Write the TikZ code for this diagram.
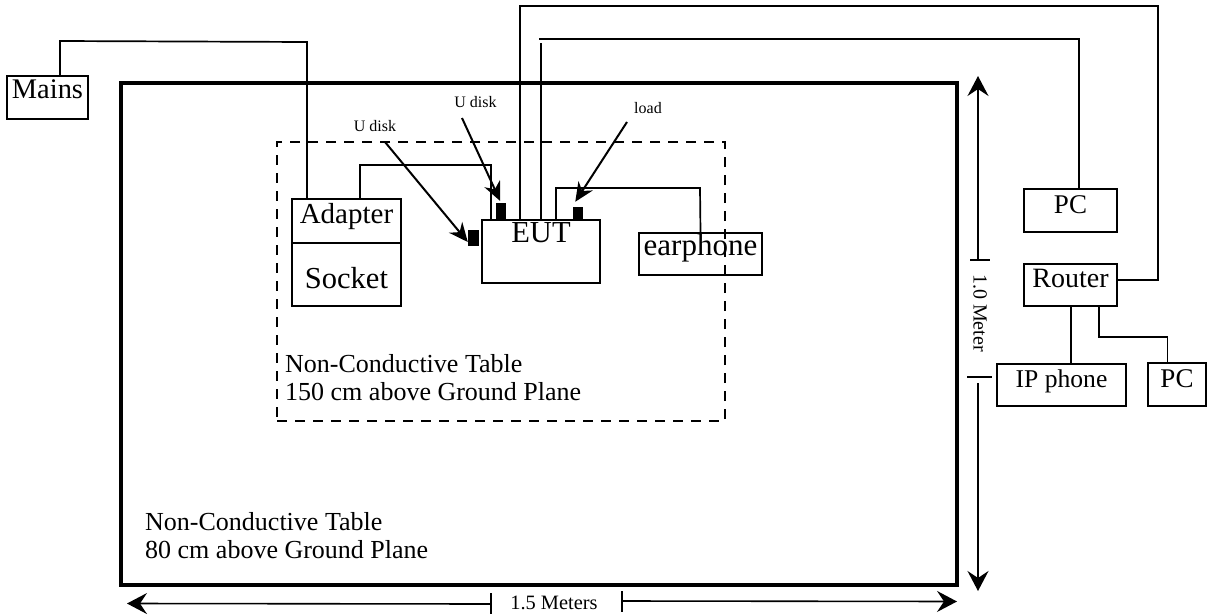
\documentclass[tikz,border=0pt]{standalone}
\usepackage{fontspec}
\setmainfont{Liberation Serif}
\usetikzlibrary{arrows.meta}

\begin{document}
\begin{tikzpicture}[
    x=1pt,
    y=-1pt,
    box/.style={
        rectangle,
        draw=black,
        line width=1.7pt,
        inner sep=0pt,
        align=center
    },
    tablebox/.style={
        rectangle,
        draw=black,
        inner sep=0pt
    },
    plug/.style={
        rectangle,
        fill=black,
        inner sep=0pt
    },
    wire/.style={
        line width=1.7pt
    },
    pointer/.style={
        -{Stealth[length=19pt,width=17pt]},
        line width=2pt
    },
    dimarrow/.style={
        -{Stealth[length=20pt,width=21pt,inset=7pt]},
        line width=1.6pt
    },
    tablenote/.style={
        anchor=north west,
        align=left,
        inner sep=0pt,
        font=\fontsize{26}{28}\selectfont
    },
    smalltext/.style={
        inner sep=0pt,
        font=\fontsize{16}{18}\selectfont
    },
    dimtext/.style={
        inner sep=0pt,
        font=\fontsize{20.4}{22}\selectfont
    }
]
\useasboundingbox (0,0) rectangle (1216,616);

\node[tablebox,line width=3.2pt,minimum width=836pt,minimum height=502pt] (bigtable) at (539,334) {};
\node[tablebox,line width=2.7pt,dash pattern=on 10pt off 8pt,minimum width=448pt,minimum height=279pt] (innertable) at (501,281.5) {};

\node[tablenote] (bignote) at (145,512)
    {Non-Conductive Table\\80 cm above Ground Plane};
\node[tablenote] (innernote) at (285,354.3)
    {Non-Conductive Table\\150 cm above Ground Plane};


\node[box,minimum width=81pt,text height=23pt,text depth=20pt,font=\fontsize{28.4}{30}\selectfont] (mains) at (47.5,75) [anchor=north] {Mains};

\node[box,minimum width=109pt,text height=25pt,text depth=19pt,font=\fontsize{29}{31}\selectfont] (adapter) at (346.5,198) [anchor=north] {Adapter};
\node[box,minimum width=109pt,text height=46pt,text depth=17pt,font=\fontsize{30.5}{32}\selectfont] (socket) at (346.5,242) [anchor=north] {Socket};

\node[box,minimum width=118pt,text height=23pt,text depth=40pt,font=\fontsize{30.5}{32}\selectfont] (eut) at (541,219) [anchor=north] {EUT};
\node[box,minimum width=123pt,text height=23pt,text depth=19pt,font=\fontsize{31}{33}\selectfont] (earphone) at (700.5,232) [anchor=north] {earphone};


\node[box,minimum width=93pt,text height=25pt,text depth=18pt,font=\fontsize{27}{29}\selectfont] (pcone) at (1070.5,188) [anchor=north] {PC};
\node[box,minimum width=93pt,text height=24pt,text depth=18pt,font=\fontsize{28}{30}\selectfont] (router) at (1070.5,263) [anchor=north] {Router};
\node[box,minimum width=129pt,text height=24pt,text depth=18pt,font=\fontsize{25.6}{28}\selectfont] (ipphone) at (1061.5,363) [anchor=north] {IP phone};
\node[box,minimum width=58pt,text height=25pt,text depth=18pt,font=\fontsize{27}{29}\selectfont] (pctwo) at (1177,362) [anchor=north] {PC};


\node[plug,minimum width=11pt,minimum height=16pt] (plugone) at (473.5,238) {};
\node[plug,minimum width=10pt,minimum height=16pt] (plugtwo) at (501,211) {};
\node[plug,minimum width=10pt,minimum height=12pt] (plugthree) at (578,213) {};

\node[smalltext] (udiskone) at (375,126) {U disk};
\node[smalltext] (udisktwo) at (475.5,102) {U disk};
\node[smalltext] (loadlabel) at (648,108) {load};

\coordinate (pointone) at (385,142);
\coordinate (pointtwo) at (462,118);
\coordinate (pointthree) at (627,122);


\draw[wire] ([xshift=12.5pt]mains.north) -- (60,41) -- (307,42) -- ([xshift=-39.5pt]adapter.north);
\draw[wire] ([xshift=13.5pt]adapter.north) -- (360,165) -- (491,165) -- ([xshift=-50pt]eut.north);

\draw[wire] ([xshift=-21pt]eut.north) -- (520,6) -- (1158,6) -- (1158,280) -- (router.east |- 0,280);
\draw[wire] (eut.north) -- (541,43);
\draw[wire] (539,39) -- (1079,39) -- ([xshift=8.5pt]pcone.north);

\draw[wire] ([xshift=15pt]eut.north) -- (556,188) -- (700,188) -- (earphone.north);

\draw[wire] ([xshift=0.5pt]router.south) -- ([xshift=9.5pt]ipphone.north);
\draw[wire] ([xshift=28.5pt]router.south) -- (1099,337) -- (1167.5,337) -- ([xshift=-9.5pt]pctwo.north);


\draw[pointer] (pointone) -- ([yshift=-4pt]plugone.west);
\draw[pointer,shorten >=2pt] (pointtwo) -- (plugtwo.north);
\draw[pointer,shorten >=6pt] (pointthree) -- ([xshift=-6pt]plugthree.north);


\node[dimtext,rotate=-90,font=\fontsize{20}{22}\selectfont] (heightlabel) at (980,313) {1.0 Meter};
\node[dimtext] (widthlabel) at (554,603) {1.5 Meters};

\coordinate (heighttop) at (978,76);
\coordinate (heightbottom) at (978,591);
\coordinate (heightupper) at (978,260);
\coordinate (heightlower) at (978,383);
\coordinate (widthleft) at (127,603.5);
\coordinate (widthright) at (957,601.5);
\coordinate (widthinner) at (491,604);
\coordinate (widthouter) at (622,601);

\draw[dimarrow] (heightupper) -- (heighttop);
\draw[dimarrow] (heightlower) -- (heightbottom);
\draw[wire] (970,260) -- (990,260);
\draw[wire] (967,377) -- (992,377);

\draw[dimarrow] (widthinner) -- (widthleft);
\draw[dimarrow] (widthouter) -- (widthright);
\draw[wire] (491,593) -- (491,614);
\draw[wire] (622,591) -- (622,612);

\end{tikzpicture}
\end{document}
